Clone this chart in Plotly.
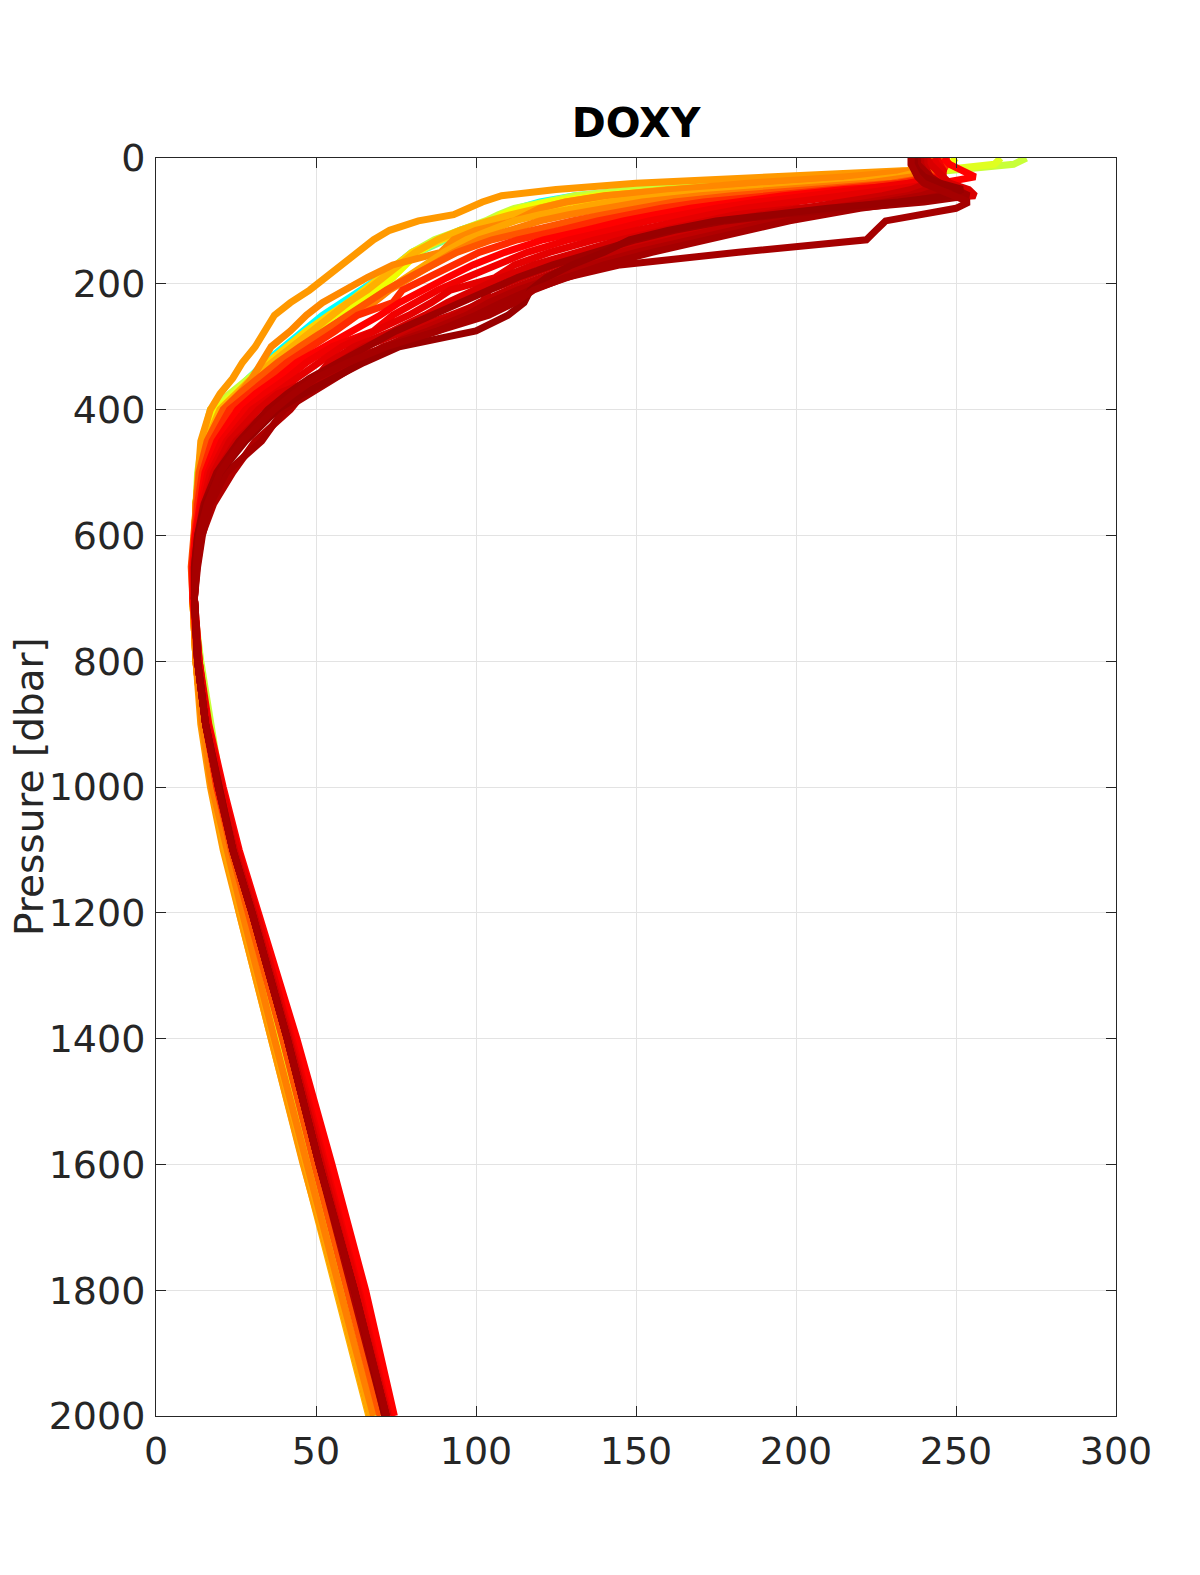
import plotly.graph_objects as go

# Pressure levels (dbar) shared by all profiles
pres = [0, 10, 20, 30, 40, 50, 60, 70, 80, 90,
        100, 115, 130, 150, 170, 190, 210, 230, 250, 275,
        300, 325, 350, 375, 400, 450, 500, 550, 600, 650,
        700, 800, 900, 1000, 1100, 1200, 1400, 1600, 1800, 2000]

# Oxygen profiles (DOXY, umol/kg), earliest cycle first
doxy_c01 = [244, 244, 243, 228, 190, 152, 131, 120, 113, 108, 104, 95, 88, 80, 75, 70, 64, 58, 52, 46,
            40, 34, 29, 24, 19, 15.5, 13.5, 12.5, 12, 11.5, 11.5, 13, 15, 18, 22, 27, 37, 47, 58, 68]
doxy_c02 = [245, 245, 244, 232, 195, 158, 136, 123, 115, 110, 106, 97, 90, 82, 77, 72, 66, 60, 54, 47,
            41, 35, 29, 24, 19, 15.5, 13.5, 12.5, 12, 11.5, 11.5, 13.5, 16, 19, 23, 28, 38, 48, 58, 68]
doxy_c03 = [272, 268, 248, 218, 180, 150, 131, 120, 112, 107, 103, 95, 87, 80, 76, 72, 66, 60, 55, 48,
            42, 35, 29, 23, 17, 14.5, 13, 12.5, 12, 11.5, 11.5, 14, 17, 20, 23.5, 28.5, 38.5, 48, 58, 68]
doxy_c04 = [264, 262, 244, 222, 196, 160, 138, 125, 116, 110, 106, 98, 89, 81, 77, 73, 67, 61, 55, 49,
            42, 36, 30, 24, 18, 15, 13.5, 12.5, 12, 11.5, 11.5, 13, 15.5, 18.5, 22.5, 27.5, 37.5, 47.5, 57.5, 67.5]
doxy_c05 = [250, 248, 240, 226, 206, 166, 138, 123, 114, 108, 105, 96, 88, 82, 78, 74, 69, 62, 56, 49,
            43, 36, 30, 25, 19, 15.5, 13.5, 12.5, 12, 11.5, 11.5, 13, 15, 18, 22, 27, 37, 47, 57.5, 67.5]
doxy_c06 = [242, 241, 238, 224, 200, 170, 146, 130, 120, 112, 106, 97, 89, 80, 75, 70, 65, 60, 54, 47,
            41, 35, 30, 25, 20, 15.5, 13.5, 12.5, 12, 11.5, 11.5, 12.5, 14.5, 17.5, 21.5, 26.5, 36.5, 46.5, 57, 67]
doxy_c07 = [240, 240, 236, 215, 190, 160, 141, 128, 119, 111, 104, 95, 88, 81, 76, 71, 66, 60, 55, 48,
            42, 36, 30, 25, 20, 16, 13.5, 12.5, 12, 11.5, 11.5, 12.5, 14.5, 17.5, 21.5, 26, 36, 46, 56.5, 66.5]
doxy_c08 = [238, 238, 235, 190, 150, 125, 108, 102, 97, 93, 82, 73, 68, 63, 58, 53, 48, 42, 37, 34,
            31, 27, 24, 20, 17, 14, 13, 12.5, 12, 11.5, 11.5, 12.5, 14, 17, 21, 26, 36, 46, 57, 67]
doxy_c09 = [240, 240, 238, 215, 185, 160, 140, 128, 120, 116, 112, 100, 93, 89, 74, 66, 59, 52, 47, 42,
            36, 33, 30, 26, 21, 16, 13.5, 12.5, 12, 11.5, 11.5, 12.5, 14.5, 17.5, 22, 26.5, 36.5, 46.5, 57, 67]
doxy_c10 = [241, 241, 240, 232, 215, 185, 160, 142, 130, 120, 112, 104, 97, 90, 84, 78, 72, 66, 60, 53,
            46, 40, 34, 28, 22, 17, 14, 12.5, 12, 11.5, 11.5, 12.5, 14.5, 17.5, 21.5, 26.5, 36.5, 46.5, 57, 67]
doxy_c11 = [243, 243, 242, 236, 222, 195, 170, 152, 139, 129, 120, 110, 101, 93, 86, 79, 73, 68, 62, 55,
            48, 41, 35, 29, 23, 17, 14, 12.5, 12, 11.5, 11.5, 12.5, 14.5, 17.5, 22, 27, 37, 47, 57.5, 68]
doxy_c12 = [245, 245, 245, 242, 230, 205, 180, 162, 150, 140, 130, 118, 105, 94, 86, 79, 72, 66, 60, 52,
            45, 38, 32, 26, 21, 16, 13.5, 12.5, 11.5, 11, 11.5, 13, 15.5, 19, 23.5, 29, 39.5, 49.5, 60, 70]
doxy_c13 = [247, 247, 246, 243, 232, 210, 188, 171, 158, 148, 138, 126, 113, 101, 93, 85, 77, 74, 63, 56,
            48, 41, 35, 29, 23, 17.5, 14.5, 13, 12, 11.2, 11.5, 13, 15.5, 19, 24, 30, 41, 51, 62, 72]
doxy_c14 = [246, 248, 252, 256, 245, 215, 196, 180, 167, 156, 146, 134, 121, 109, 99, 91, 83, 76, 70, 61,
            52, 44, 38, 31, 25.5, 19, 15.3, 13.6, 12.2, 11.5, 11.5, 13.5, 16.5, 21, 26, 32, 44, 55, 65.5, 74.5]
doxy_c15 = [244, 245, 246, 245, 235, 220, 203, 188, 175, 164, 154, 142, 129, 116, 106, 97, 88, 81, 74, 68,
            55, 47, 41, 34, 28, 20.5, 16.2, 14.1, 12.6, 11.7, 12, 13.5, 16, 20, 25, 31, 42.5, 53, 63.5, 73]
doxy_c16 = [243, 244, 246, 246, 245, 230, 211, 197, 184, 173, 163, 150, 137, 123, 112, 106, 92, 86, 79, 69,
            58, 51, 44, 37, 30, 22, 17, 14.7, 12.9, 12, 12, 13.5, 16, 20.5, 25.5, 31.5, 42, 52.5, 63, 72.5]
doxy_c17 = [241, 242, 244, 246, 248, 254, 256, 228, 200, 181, 171, 158, 145, 131, 118, 108, 99, 91, 84, 74,
            62, 54, 50, 38, 32, 23, 18, 15.2, 13.3, 12.2, 12, 13, 15.5, 19.5, 24.5, 30.5, 41.5, 52, 62.5, 72.5]
doxy_c18 = [240, 240, 241, 242, 241, 236, 227, 214, 200, 189, 179, 166, 153, 138, 125, 114, 104, 102, 92, 78,
            65, 57, 49, 42, 35, 25, 19, 15.7, 13.7, 12.4, 12, 13, 15.5, 19.5, 24.5, 30.5, 41.5, 51.5, 62, 72]
doxy_c19 = [239, 239, 240, 242, 243, 241, 235, 223, 209, 197, 187, 174, 161, 145, 131, 120, 110, 101, 94, 82,
            72, 58, 52, 45, 37, 27, 20, 16.3, 14, 12.7, 12, 13, 15.5, 19.5, 24, 30, 41, 51, 62, 72]
doxy_c20 = [237, 238, 239, 241, 244, 245, 239, 228, 215, 203, 193, 180, 167, 150, 136, 124, 113, 104, 97, 85,
            71, 62, 54, 46, 42, 31, 24, 18, 14.3, 12.8, 12, 13, 15.5, 19.5, 24, 30, 41, 51, 61.5, 71.5]
doxy_c21 = [238, 238, 240, 242, 245, 248, 245, 235, 220, 208, 198, 185, 172, 155, 140, 128, 117, 108, 100, 88,
            73, 64, 56, 48, 40, 33, 22, 17, 14.5, 13, 12, 13, 15.5, 19.5, 24, 30, 41, 51, 62, 72]
doxy_c22 = [236, 236, 238, 240, 242, 250, 254, 240, 215, 195, 178, 162, 150, 136, 124, 113, 104, 95, 87, 75,
            66, 57, 48, 41, 35, 26, 19, 15, 13, 12, 12, 13, 15.5, 19.5, 24, 30, 41, 51, 62, 72]
doxy_c23 = [237, 237, 238, 240, 245, 252, 248, 232, 210, 190, 175, 160, 148, 140, 130, 122, 117, 115, 110, 100,
            76, 65, 55, 46, 38, 28, 20, 15.5, 13, 12, 12, 13, 15.5, 19.5, 24, 30, 41, 51, 62, 71.5]
doxy_c24 = [236, 236, 237, 238, 240, 245, 250, 254, 250, 238, 228, 225, 222, 182, 145, 128, 118, 112, 104, 88,
            72, 60, 50, 43, 37, 27, 20, 16, 13.5, 12.5, 12, 13, 15.5, 19.5, 24, 30, 41, 51, 62, 72]

profiles = [doxy_c01, doxy_c02, doxy_c03, doxy_c04, doxy_c05, doxy_c06, doxy_c07, doxy_c08,
            doxy_c09, doxy_c10, doxy_c11, doxy_c12, doxy_c13, doxy_c14, doxy_c15, doxy_c16,
            doxy_c17, doxy_c18, doxy_c19, doxy_c20, doxy_c21, doxy_c22, doxy_c23, doxy_c24]

profile_colors = ["#00FFFF", "#80FF80", "#C8FF38", "#E0FF20", "#F0FF00", "#FFD500", "#FFB000", "#FF9900",
                  "#FF8800", "#FFA500", "#FF7F00", "#FF5500", "#FF2A00", "#FF0000", "#F20000", "#E60000",
                  "#D90000", "#CC0000", "#BF0000", "#B00000", "#A50000", "#A00000", "#990000", "#A50000"]

x_ticks = [0, 50, 100, 150, 200, 250, 300]
y_ticks = [0, 200, 400, 600, 800, 1000, 1200, 1400, 1600, 1800, 2000]

fig = go.Figure()
for vals, col in zip(profiles, profile_colors):
    fig.add_trace(go.Scatter(x=vals, y=pres, mode="lines",
                             line=dict(color=col, width=7),
                             showlegend=False, hoverinfo="skip"))

axis_common = dict(showline=True, linecolor="#262626", linewidth=1, mirror="allticks",
                   ticks="inside", ticklen=10, tickcolor="#262626", automargin=False,
                   showgrid=True, gridcolor="#E3E3E3", gridwidth=1, zeroline=False,
                   tickfont=dict(family="DejaVu Sans", size=38, color="#262626"))

# the page body adds an 8 px offset, so margins are reduced by 8 on left/top
m_l, m_r, m_t, m_b = 148, 92, 150, 167
plot_w = 1200 - m_l - m_r

fig.update_layout(
    width=1200, height=1575,
    margin=dict(l=m_l, r=m_r, t=m_t, b=m_b),
    paper_bgcolor="white", plot_bgcolor="white",
    font=dict(family="DejaVu Sans", color="#262626"),
    title=dict(text="<b>DOXY</b>", x=0.5, xref="paper", xanchor="center",
               y=1 - 115 / 1575, yref="container", yanchor="middle",
               font=dict(family="DejaVu Sans", size=41, color="black")),
    xaxis=dict(range=[0, 300], tickvals=x_ticks, ticklabelstandoff=1, **axis_common),
    yaxis=dict(range=[2000, 0], tickvals=y_ticks, ticklabelstandoff=2, **axis_common),
    annotations=[dict(text="Pressure [dbar]", textangle=-90, showarrow=False,
                      xref="paper", yref="paper", x=(21 - m_l) / plot_w, y=0.5,
                      xanchor="center", yanchor="middle", borderpad=0,
                      font=dict(family="DejaVu Sans", size=39, color="#262626"))],
)

fig.write_html("out.html")
